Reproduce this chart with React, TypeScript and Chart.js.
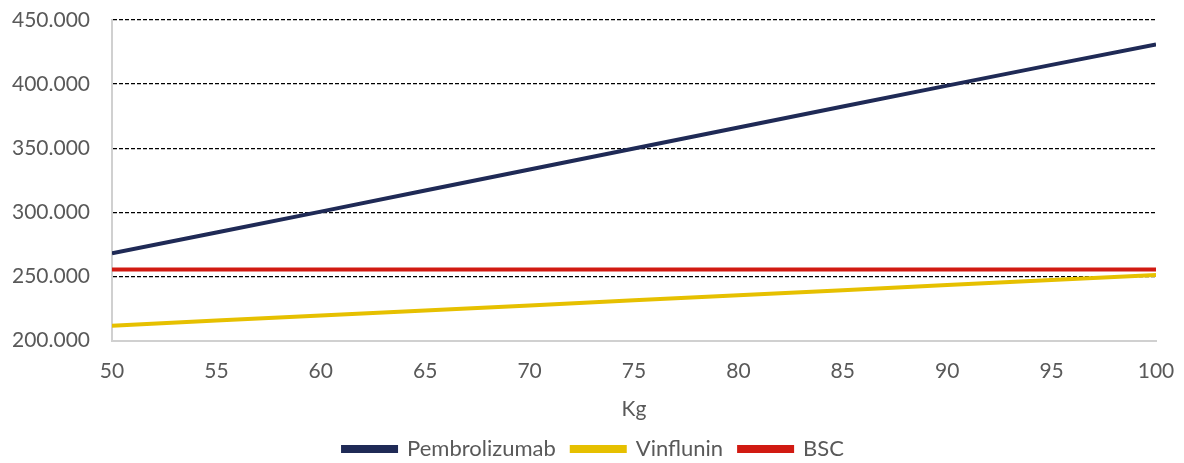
import React, { useEffect, useRef } from "react";
import { Chart, registerables } from "chart.js";

Chart.register(...registerables);

const weightsKg = [50, 55, 60, 65, 70, 75, 80, 85, 90, 95, 100];
const pembrolizumab = [268000, 284300, 300600, 317000, 333400, 349800, 366200, 382500, 398800, 415000, 431000];
const vinflunin = [211600, 215600, 219500, 223500, 227400, 231400, 235400, 239300, 243300, 247200, 251200];
const bsc = [255500, 255500, 255500, 255500, 255500, 255500, 255500, 255500, 255500, 255500, 255500];
const seriesNames = ["Pembrolizumab", "Vinflunin", "BSC"];
const seriesColors = ["#1f2a56", "#e6c000", "#d11a12"];
const xTitle = "Kg";

const FONT = "Lato, 'Noto Sans', sans-serif";
const TEXT = "#595959";
const FS = 21;

function fmt(v: number) {
  return Math.round(v).toString().replace(/\B(?=(\d{3})+(?!\d))/g, ".");
}

export default function App() {
  const ref = useRef<HTMLCanvasElement | null>(null);
  useEffect(() => {
    document.body.style.margin = "0";
    const values = [pembrolizumab, vinflunin, bsc];
    const chart = new Chart(ref.current!, {
      type: "line",
      data: {
        datasets: values.map((vals, i) => ({
          label: seriesNames[i],
          data: weightsKg.map((x, j) => ({ x, y: vals[j] })),
          borderColor: seriesColors[i],
          backgroundColor: seriesColors[i],
          borderWidth: 4,
          pointRadius: 0,
          tension: 0,
        })),
      },
      options: {
        animation: false,
        responsive: false,
        layout: { padding: { top: 0, right: 0, left: 3, bottom: -7 } },
        plugins: {
          tooltip: { enabled: false },
          legend: {
            position: "bottom",
            labels: {
              boxWidth: 53,
              boxHeight: 4,
              padding: 16,
              color: TEXT,
              font: { family: FONT, size: 22 },
            },
          },
        },
        scales: {
          x: {
            type: "linear",
            min: 50,
            max: 100,
            afterFit: (scale: any) => {
              scale.paddingRight = 28;
              scale.paddingLeft = 0;
            },
            ticks: { stepSize: 5, color: TEXT, font: { family: FONT, size: FS }, padding: 18 },
            grid: { display: false, drawTicks: false },
            border: { display: true, color: "#d0d0d0", width: 2 },
            title: { display: true, text: xTitle, color: TEXT, font: { family: FONT, size: FS }, padding: { top: -5, bottom: 0 } },
          },
          y: {
            min: 200000,
            max: 450000,
            afterFit: (scale: any) => {
              scale.width = 109;
              scale.paddingTop = 20;
              scale.paddingBottom = 0;
            },
            ticks: {
              stepSize: 50000,
              color: TEXT,
              font: { family: FONT, size: FS },
              padding: 22,
              callback: (v: any) => fmt(Number(v)),
            },
            grid: {
              drawTicks: false,
              color: (ctx: any) => (ctx.tick && ctx.tick.value === 200000 ? "rgba(0,0,0,0)" : "#000000"),
              lineWidth: 1.3,
            },
            border: { display: true, color: "#d0d0d0", width: 2, dash: [4, 2] as any },
          },
        },
      },
    });
    return () => chart.destroy();
  }, []);
  return (
    <div style={{ width: 1184, height: 463 }}>
      <canvas ref={ref} width={1184} height={463} />
    </div>
  );
}
